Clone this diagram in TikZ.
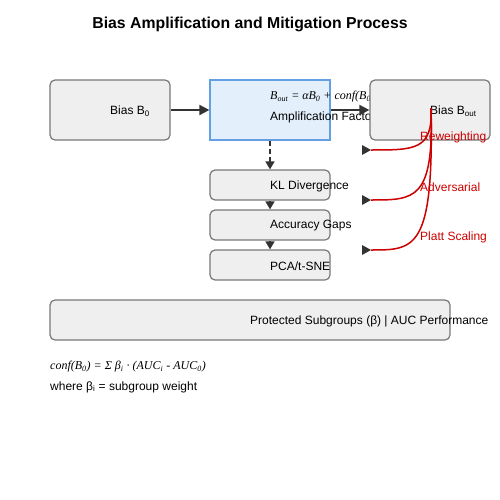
\documentclass[tikz,border=0pt]{standalone}
\usepackage{fontspec}
\setmainfont{Liberation Sans}
\newfontfamily\serifit{Liberation Serif}
\usetikzlibrary{arrows.meta}
\definecolor{boxfill}{RGB}{239,239,239}
\definecolor{boxline}{RGB}{120,120,120}
\definecolor{ampfill}{RGB}{227,240,252}
\definecolor{ampline}{RGB}{100,160,225}
\definecolor{arrgray}{RGB}{51,51,51}
\definecolor{redline}{RGB}{204,0,0}
\tikzset{
  graybox/.style={draw=boxline, fill=boxfill, rounded corners=5pt, line width=1.2pt, inner sep=0pt},
  ampbox/.style={draw=ampline, fill=ampfill, line width=1.2pt, inner sep=0pt},
  lbl/.style={anchor=west, inner sep=0pt, yshift=-1pt, font=\fontsize{12}{14}\selectfont, text=black},
  redlbl/.style={anchor=west, inner sep=0pt, yshift=-1pt, font=\fontsize{12}{14}\selectfont, text=redline},
  arr/.style={draw=arrgray, line width=1.8pt, -{Triangle[length=10pt,width=10pt]}, arrgray},
  varr/.style={draw=arrgray, line width=1.6pt, -{Triangle[length=8pt,width=9pt]}, arrgray},
  redcurve/.style={draw=redline, line width=1.5pt},
}
\begin{document}
\begin{tikzpicture}[x=1pt,y=-1pt]
\useasboundingbox (0,0) rectangle (500,500);
\node[font=\bfseries\fontsize{15.8}{19}\selectfont] (title) at (250,24) {Bias Amplification and Mitigation Process};

% top row
\node[graybox, minimum width=120pt, minimum height=60pt] (b0) at (110,110) {};
\node[lbl] (b0t) at (b0.center) {Bias B\textsubscript{0}};
\node[ampbox, minimum width=120pt, minimum height=60pt] (amp) at (270,110) {};
\node[lbl, font=\serifit\itshape\fontsize{12}{14}\selectfont] (ampf) at (270,96) {B\textsubscript{out} = αB\textsubscript{0} + conf(B\textsubscript{0})};
\node[lbl] (ampt) at (270,116) {Amplification Factor};
\node[graybox, minimum width=120pt, minimum height=60pt] (bout) at (430,110) {};
\node[lbl] (boutt) at (bout.center) {Bias B\textsubscript{out}};

% middle column
\node[graybox, minimum width=120pt, minimum height=30pt] (kl) at (270,185) {};
\node[lbl] (klt) at (kl.center) {KL Divergence};
\node[graybox, minimum width=120pt, minimum height=30pt] (acc) at (270,225) {};
\node[lbl] (acct) at (acc.center) {Accuracy Gaps};
\node[graybox, minimum width=120pt, minimum height=30pt] (pca) at (270,265) {};
\node[lbl] (pcat) at (pca.center) {PCA/t-SNE};

% bottom bar
\node[graybox, minimum width=400pt, minimum height=40pt] (sub) at (250,320) {};
\node[lbl] (subt) at (sub.center) {Protected Subgroups (β) | AUC Performance};

% arrows
\draw[arr] (b0.east) -- (amp.west);
\draw[arr] (amp.east) -- (bout.west);
\draw[varr, dash pattern=on 5pt off 3pt] (amp.south) -- (kl.north);
\draw[varr] (kl.south) -- (acc.north);
\draw[varr] (acc.south) -- (pca.north);

% mitigation curves
\coordinate (rs) at (431,108);
\coordinate (e1) at (371,150);
\coordinate (e2) at (371,200);
\coordinate (e3) at (371,250);
\draw[redcurve] (rs) .. controls (433,150) and (415,150) .. (e1);
\draw[redcurve] (rs) .. controls (434,200) and (415,200) .. (e2);
\draw[redcurve] (rs) .. controls (434,250) and (415,250) .. (e3);
\foreach \e in {e1,e2,e3}{
  \fill[arrgray] ([xshift=-9pt,yshift=-5pt]\e) -- (\e) -- ([xshift=-9pt,yshift=5pt]\e) -- cycle;
}
\node[redlbl] (rw) at (420,136) {Reweighting};
\node[redlbl] (adv) at (420,186) {Adversarial};
\node[redlbl] (platt) at (420,236) {Platt Scaling};

% formula
\node[lbl, font=\serifit\itshape\fontsize{12}{14}\selectfont] (conf) at (50,366) {conf(B\textsubscript{0}) = Σ β\textsubscript{i} · (AUC\textsubscript{i} - AUC\textsubscript{0})};
\node[lbl] (where) at (50,386) {where β\textsubscript{i} = subgroup weight};
\end{tikzpicture}
\end{document}
